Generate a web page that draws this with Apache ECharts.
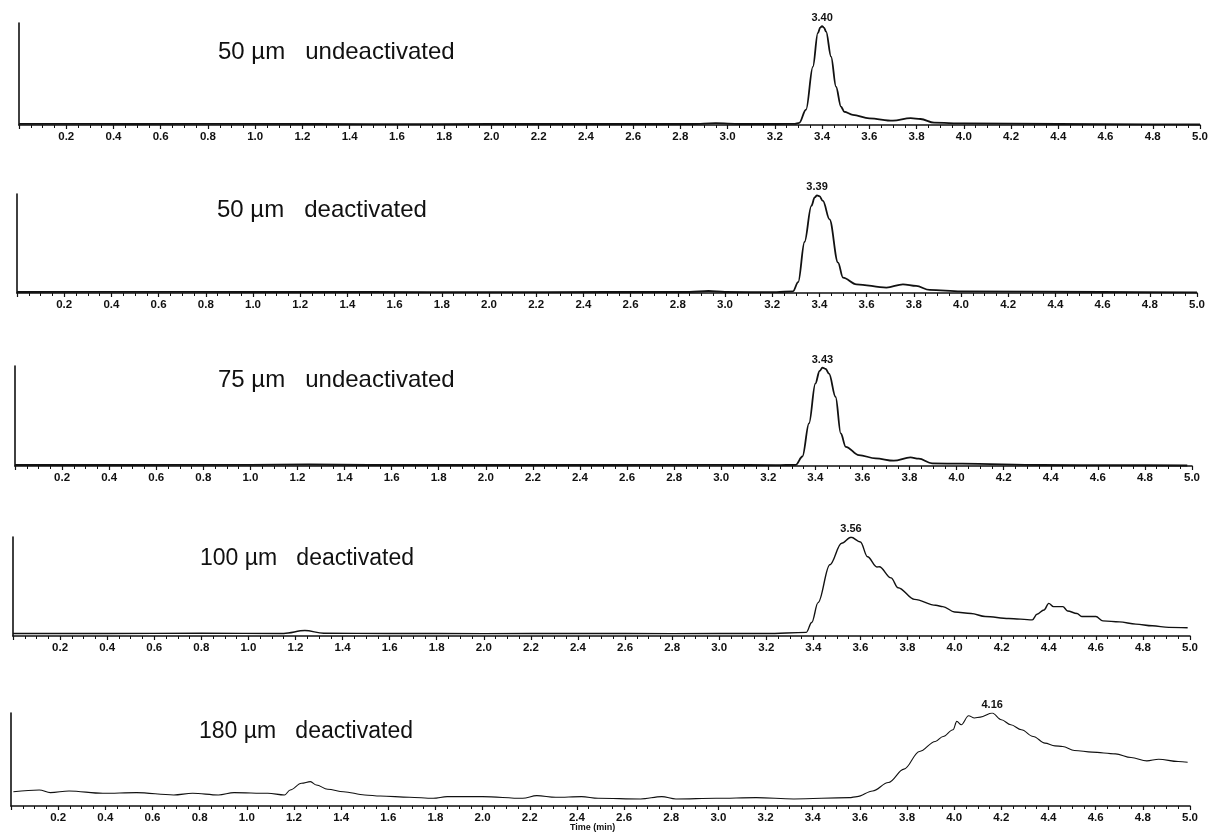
<!DOCTYPE html>
<html>
<head>
<meta charset="utf-8">
<title>Chromatograms</title>
<script src="https://cdn.jsdelivr.net/npm/echarts@6/dist/echarts.min.js"></script>
<style>
html,body{margin:0;padding:0;background:#fff;}
#chart{width:1210px;height:837px;}
</style>
</head>
<body>
<div id="chart"></div>
<script>
// panel titles and peak retention times
const panelTitles = ['50 µm   undeactivated', '50 µm   deactivated', '75 µm   undeactivated', '100 µm   deactivated', '180 µm   deactivated'];
const peakLabels = ['3.40', '3.39', '3.43', '3.56', '4.16'];
const axisName = 'Time (min)';

// time (min) / relative intensity (% of panel height)
const times1 = [0, 0.5, 1.0, 1.5, 2.0, 2.5, 2.85, 2.95, 3.05, 3.21, 3.285, 3.303, 3.332, 3.361, 3.382, 3.392, 3.40, 3.408, 3.417, 3.438, 3.459, 3.48, 3.494, 3.53, 3.60, 3.70, 3.775, 3.817, 3.874, 4.0, 4.4, 4.8, 5.0];
const values1 = [1.2, 1.0, 1.1, 0.9, 1.0, 1.0, 1.0, 1.8, 1.0, 1.0, 1.1, 2.0, 15, 57, 90, 95.5, 97, 95.5, 91.5, 67, 37.5, 18, 13, 10, 6.5, 4.2, 6.8, 5.9, 2.3, 1.5, 1.0, 0.6, 0.5];

const times2 = [0, 0.5, 1.0, 1.5, 2.0, 2.5, 2.85, 2.93, 3.0, 3.218, 3.288, 3.31, 3.337, 3.366, 3.38, 3.39, 3.40, 3.415, 3.443, 3.479, 3.50, 3.557, 3.684, 3.754, 3.81, 3.867, 4.0, 4.6, 5.0];
const values2 = [1.0, 1.1, 1.0, 1.0, 0.9, 1.0, 1.0, 2.0, 1.0, 0.8, 1.7, 11, 51.5, 88, 96.5, 98.7, 97.8, 93, 74.4, 30.6, 15.5, 8.8, 5.4, 8.8, 7.1, 3.1, 1.7, 1.0, 0.7];

const times3 = [0, 0.5, 1.0, 1.25, 1.5, 2.0, 2.5, 3.0, 3.232, 3.317, 3.345, 3.373, 3.40, 3.418, 3.43, 3.444, 3.458, 3.486, 3.508, 3.529, 3.585, 3.656, 3.733, 3.804, 3.839, 3.896, 4.023, 4.362, 4.7, 4.98];
const values3 = [1.0, 1.0, 1.1, 1.5, 1.0, 1.0, 1.0, 1.2, 0.8, 1.2, 9.5, 42.6, 82.4, 95, 98.3, 97, 92.3, 69, 32.5, 19.2, 10.9, 7.6, 5.3, 8.6, 7.3, 2.6, 2.3, 1.0, 0.8, 0.5];

const times4 = [0, 0.4, 0.8, 1.15, 1.24, 1.32, 1.6, 2.0, 2.4, 2.8, 3.2, 3.37, 3.393, 3.42, 3.47, 3.52, 3.56, 3.60, 3.63, 3.67, 3.68, 3.73, 3.76, 3.83, 3.92, 3.95, 4.00, 4.07, 4.13, 4.23, 4.33, 4.35, 4.38, 4.40, 4.42, 4.46, 4.48, 4.52, 4.54, 4.60, 4.63, 4.70, 4.77, 4.84, 4.91, 4.99];
const values4 = [2.5, 2.6, 2.8, 2.6, 5.5, 2.8, 2.5, 2.4, 2.5, 2.4, 2.5, 3.7, 13.7, 33.7, 72, 93.7, 99.7, 95, 80, 69.7, 70, 58.7, 48.7, 37, 31, 29.7, 24.3, 22.7, 19.7, 17.7, 16.3, 22, 26.3, 33, 29.7, 29.7, 25.3, 22.7, 19.7, 19.7, 15.3, 14.3, 12, 10.3, 8.7, 8.3];

const times5 = [0.01, 0.12, 0.167, 0.246, 0.389, 0.532, 0.69, 0.77, 0.88, 0.946, 1.089, 1.16, 1.184, 1.232, 1.27, 1.295, 1.343, 1.41, 1.50, 1.566, 1.69, 1.79, 1.85, 2.0, 2.17, 2.23, 2.31, 2.42, 2.49, 2.67, 2.76, 2.82, 2.99, 3.16, 3.32, 3.555, 3.588, 3.654, 3.721, 3.787, 3.853, 3.92, 3.953, 3.995, 4.011, 4.03, 4.061, 4.086, 4.111, 4.161, 4.20, 4.24, 4.285, 4.335, 4.385, 4.427, 4.46, 4.51, 4.585, 4.684, 4.75, 4.817, 4.867, 4.95, 4.99];
const values5 = [15.4, 17.2, 14.4, 16.2, 13.7, 14.4, 11.9, 13.7, 11.9, 14.4, 13.7, 11.9, 17.2, 24.4, 26.2, 22.6, 18, 15.4, 11.9, 10.8, 9.4, 8.3, 10.1, 10.1, 8.3, 11.2, 9.4, 10.1, 8.3, 7.6, 10.1, 7.6, 8.3, 9.0, 7.6, 9.0, 10.1, 16.2, 25.2, 39.6, 58.6, 69.4, 74.8, 82, 91, 87.4, 97.1, 94.6, 95.6, 100, 92.8, 87.4, 82, 74.8, 67.6, 64.7, 64, 59.7, 57.9, 56.1, 52.1, 48.5, 50.3, 47.8, 47.1];

const allTimes = [times1, times2, times3, times4, times5];
const allValues = [values1, values2, values3, values4, values5];

// layout of the five stacked panels (px)
const grids = [
  {left: 19, top: 23, width: 1181, height: 102},
  {left: 17, top: 194, width: 1180, height: 99},
  {left: 15, top: 366, width: 1177, height: 100},
  {left: 13, top: 537, width: 1177, height: 99},
  {left: 11, top: 713, width: 1179, height: 93}
];
const titlePos = [[218, 40], [217, 198], [218, 368], [200, 547], [199, 720]];
const titleSize = [24, 24, 24, 23, 23];
const lineWidths = [1.8, 1.8, 1.8, 1.4, 1.1];

const font = 'Liberation Sans, Arial, sans-serif';
const ink = '#111';

const dom = document.getElementById('chart');
const myChart = echarts.init(dom);

const option = {
  backgroundColor: '#fff',
  animation: false,
  title: panelTitles.map((t, i) => ({
    text: t,
    left: titlePos[i][0],
    top: titlePos[i][1],
    padding: 0,
    textStyle: {fontFamily: font, fontSize: titleSize[i], fontWeight: 'normal', color: ink}
  })).concat([{
    text: axisName,
    left: 570,
    top: 823,
    padding: 0,
    textStyle: {fontFamily: font, fontSize: 9, fontWeight: 'bold', color: ink}
  }]),
  grid: grids.map(g => Object.assign({outerBoundsMode: 'none', containLabel: false}, g)),
  xAxis: grids.map((g, i) => ({
    gridIndex: i,
    type: 'value',
    min: 0,
    max: 5,
    interval: 0.2,
    axisLine: {lineStyle: {color: ink, width: 1.6}},
    axisTick: {length: 4, lineStyle: {color: ink, width: 1.2}},
    minorTick: {show: true, splitNumber: 4, length: 3, lineStyle: {color: ink, width: 1}},
    splitLine: {show: false},
    minorSplitLine: {show: false},
    axisLabel: {
      margin: 6,
      fontSize: 11.5,
      fontWeight: 'bold',
      fontFamily: font,
      color: ink,
      formatter: v => (v < 0.01 ? '' : v.toFixed(1))
    }
  })),
  yAxis: grids.map((g, i) => ({
    gridIndex: i,
    type: 'value',
    min: 0,
    max: 100,
    axisLine: {show: true, lineStyle: {color: ink, width: 1.6}},
    axisTick: {show: false},
    axisLabel: {show: false},
    splitLine: {show: false}
  })),
  series: allTimes.map((ts, i) => ({
    type: 'line',
    xAxisIndex: i,
    yAxisIndex: i,
    data: ts.map((t, k) => [t, allValues[i][k]]),
    showSymbol: false,
    symbol: 'none',
    smooth: 0.35,
    smoothMonotone: 'x',
    lineStyle: {color: ink, width: lineWidths[i]},
    markPoint: {
      symbol: 'circle',
      symbolSize: 1,
      itemStyle: {color: 'rgba(0,0,0,0)'},
      label: {
        show: true,
        position: 'top',
        distance: 2,
        fontSize: 11,
        fontWeight: 'bold',
        fontFamily: font,
        color: ink,
        formatter: () => peakLabels[i]
      },
      data: [{type: 'max', name: 'peak'}]
    }
  }))
};

myChart.setOption(option);
window.addEventListener('resize', () => {
  myChart.resize();
});
</script>
</body>
</html>
